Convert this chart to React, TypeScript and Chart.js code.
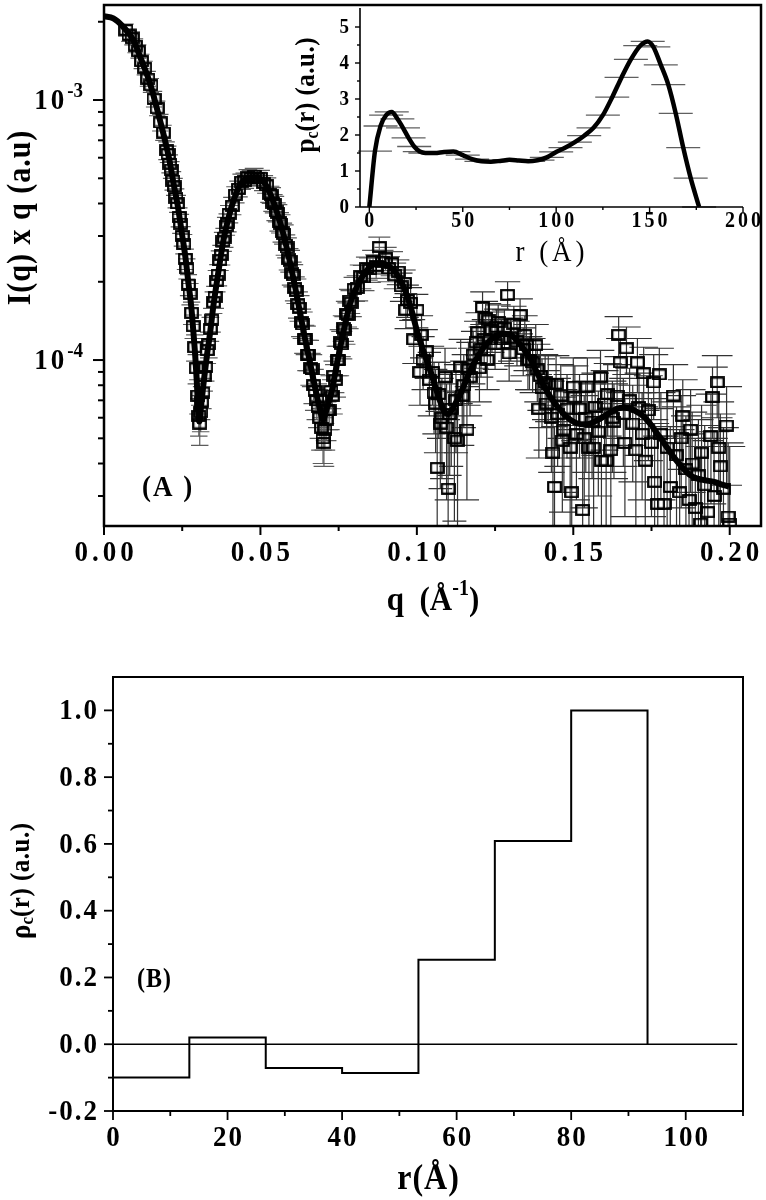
import React, { useEffect, useRef } from "react";
import { Chart, registerables } from "chart.js";
Chart.register(...registerables);

const SERIF = '"Liberation Serif", "Times New Roman", serif';
const bold = (s: number) => `bold ${s}px ${SERIF}`;
const reg = (s: number) => `${s}px ${SERIF}`;

// ================= Panel A : I(q) x q  (values of I in units of 1e-5) =================
const qTicksMajor = [0, 0.05, 0.1, 0.15, 0.2];
const qTickLabels = ["0.00", "0.05", "0.10", "0.15", "0.20"];
const qTicksMinor = [0.025, 0.075, 0.125, 0.175];
const iTicksMajor = [1e-4, 1e-3];
const iTickExponents = ["-4", "-3"];
const iTicksMinor = [3e-5, 4e-5, 5e-5, 6e-5, 7e-5, 8e-5, 9e-5, 2e-4, 3e-4, 4e-4, 5e-4, 6e-4, 7e-4, 8e-4, 9e-4, 2e-3];
const I_UNIT = 1e-5;

const fitQ = [
  0, 0.003, 0.006, 0.0094, 0.012, 0.0147, 0.017, 0.019, 0.021, 0.0222,
  0.0236, 0.0249, 0.026, 0.027, 0.0279, 0.0286, 0.0292, 0.0297, 0.0302, 0.0305,
  0.031, 0.0318, 0.0328, 0.0339, 0.035, 0.036, 0.0372, 0.0382, 0.04, 0.0414,
  0.043, 0.0446, 0.047, 0.049, 0.051, 0.053, 0.0553, 0.0575, 0.0595, 0.0612,
  0.0627, 0.0643, 0.0659, 0.0675, 0.0691, 0.07, 0.0712, 0.0729, 0.0742, 0.0755,
  0.0771, 0.0787, 0.0803, 0.0819, 0.0835, 0.0851, 0.0867, 0.0883, 0.09, 0.0926,
  0.0942, 0.0958, 0.098, 0.1, 0.102, 0.1043, 0.1065, 0.1086, 0.11, 0.112,
  0.1139, 0.116, 0.1182, 0.1205, 0.1225, 0.1247, 0.1267, 0.1285, 0.13, 0.132,
  0.1342, 0.1365, 0.1385, 0.1405, 0.1427, 0.145, 0.147, 0.149, 0.1513, 0.1535,
  0.1555, 0.158, 0.16, 0.162, 0.164, 0.166, 0.1683, 0.17, 0.1726, 0.175,
  0.1769, 0.179, 0.1811, 0.183, 0.1854, 0.1875, 0.1897, 0.192, 0.195, 0.1975,
  0.1998,
];
const fitI = [
  210, 206, 192, 170, 142, 116, 92, 74, 58, 48,
  39, 30.7, 25, 19.7, 16, 12.7, 10.2, 8.1, 6.0, 5.8,
  6.6, 8.1, 10.2, 12.7, 16.3, 19.7, 24.5, 29, 36, 41,
  46, 49, 50.5, 50.5, 48.5, 44, 37, 30, 23.6, 18.8,
  15.1, 12, 9.7, 7.8, 6.4, 5.9, 6.5, 7.7, 9.3, 11.2,
  13.8, 16.6, 18.5, 20.3, 21.7, 22.9, 23.4, 23.5, 23.3, 22.2,
  20.8, 19.1, 16.0, 13.0, 10.9, 9.1, 7.5, 6.4, 6.2, 6.7,
  7.4, 8.5, 9.7, 10.8, 11.6, 12.2, 12.5, 12.6, 12.5, 11.9,
  11.0, 10.0, 8.9, 8.0, 7.2, 6.6, 6.2, 5.9, 5.7, 5.65,
  5.7, 5.9, 6.1, 6.3, 6.5, 6.55, 6.5, 6.35, 6.05, 5.6,
  5.2, 4.8, 4.4, 4.1, 3.8, 3.6, 3.5, 3.45, 3.4, 3.32,
  3.26,
];

const dataQ = [
  0.007, 0.008, 0.009, 0.010, 0.011, 0.012, 0.013, 0.014, 0.015, 0.016,
  0.017, 0.018, 0.019, 0.020, 0.0205, 0.021, 0.0215, 0.022, 0.0225, 0.023,
  0.0235, 0.024, 0.0245, 0.025, 0.0255, 0.026, 0.0265, 0.027, 0.0275, 0.028,
  0.0285, 0.029, 0.0295, 0.030, 0.0303, 0.0306, 0.0309, 0.0312, 0.0316, 0.032,
  0.0325, 0.033, 0.0335, 0.034, 0.0345, 0.035, 0.0355, 0.036, 0.0365, 0.037,
  0.0375, 0.038, 0.0385, 0.039, 0.0395, 0.040, 0.041, 0.042, 0.043, 0.044,
  0.045, 0.046, 0.047, 0.048, 0.049, 0.050, 0.051, 0.052, 0.053, 0.0535,
  0.054, 0.0545, 0.055, 0.0555, 0.056, 0.0565, 0.057, 0.0575, 0.058, 0.0585,
  0.059, 0.0595, 0.060, 0.0605, 0.061, 0.0615, 0.062, 0.0625, 0.063, 0.0635,
  0.064, 0.0645, 0.065, 0.0655, 0.066, 0.0665, 0.067, 0.0675, 0.068, 0.0685,
  0.069, 0.0695, 0.070, 0.0703, 0.0706, 0.071, 0.0715, 0.072, 0.0725, 0.073,
  0.0735, 0.074, 0.0745, 0.075, 0.0755, 0.076, 0.0765, 0.077, 0.0775, 0.078,
  0.0785, 0.079, 0.080, 0.081, 0.082, 0.083, 0.084, 0.085, 0.086, 0.087,
  0.088, 0.089, 0.090, 0.091, 0.092, 0.093, 0.094, 0.095, 0.096, 0.0965,
  0.097, 0.098, 0.099, 0.100, 0.101, 0.1015, 0.102, 0.103, 0.104, 0.105,
  0.1055, 0.106, 0.1065, 0.107, 0.1075, 0.108, 0.109, 0.1095, 0.110, 0.1105,
  0.111, 0.112, 0.1125, 0.113, 0.114, 0.1145, 0.115, 0.116, 0.1165, 0.117,
  0.118, 0.119, 0.1195, 0.120, 0.1205, 0.121, 0.1215, 0.122, 0.1225, 0.123,
  0.1235, 0.124, 0.125, 0.1255, 0.126, 0.127, 0.128, 0.129, 0.1295, 0.130,
  0.131, 0.132, 0.133, 0.134, 0.1345, 0.135, 0.1355, 0.136, 0.137, 0.138,
  0.1385, 0.139, 0.1395, 0.140, 0.141, 0.1415, 0.142, 0.143, 0.1435, 0.144,
  0.1445, 0.145, 0.146, 0.1465, 0.147, 0.148, 0.149, 0.1495, 0.150, 0.1505,
  0.151, 0.152, 0.153, 0.1535, 0.154, 0.1545, 0.155, 0.156, 0.1565, 0.157,
  0.158, 0.1587, 0.159, 0.160, 0.1605, 0.161, 0.162, 0.1625, 0.163, 0.164,
  0.1645, 0.165, 0.166, 0.1665, 0.167, 0.168, 0.169, 0.170, 0.1705, 0.171,
  0.172, 0.1725, 0.173, 0.174, 0.175, 0.1757, 0.176, 0.177, 0.1775, 0.178,
  0.179, 0.180, 0.181, 0.182, 0.183, 0.184, 0.1845, 0.185, 0.186, 0.187,
  0.1875, 0.188, 0.189, 0.190, 0.1907, 0.191, 0.192, 0.193, 0.194, 0.1945,
  0.195, 0.196, 0.1965, 0.197, 0.198, 0.199, 0.1995, 0.200,
];
const dataI = [
  186, 178, 173, 162, 154, 141, 133, 121, 114, 101,
  93, 82, 75, 64, 62, 57, 54, 49, 46.5, 42,
  40, 35.5, 33.5, 30, 28, 24.5, 22.5, 19.5, 18, 15.2,
  13.5, 11.2, 9.3, 7.3, 6.1, 5.7, 6.3, 6.9, 7.5, 8.7,
  9.4, 10.9, 11.5, 13.2, 14.3, 16.7, 17.5, 20.2, 21.3, 24.2,
  25.4, 28.6, 29.6, 32.8, 33.8, 36.5, 39.2, 43.3, 45.6, 48.6,
  49.0, 50.6, 50.2, 51.2, 50.1, 50.3, 48.0, 47.0, 43.5, 43.0,
  40.3, 39.7, 37.3, 36.8, 34.1, 33.5, 31.0, 30.5, 27.8, 27.1,
  24.5, 24.1, 21.6, 21.2, 18.9, 18.5, 16.4, 15.9, 14.0, 13.7,
  12.1, 12.0, 10.5, 10.5, 9.3, 9.2, 8.0, 7.6, 7.0, 6.6,
  6.0, 5.5, 5.0, 4.8, 5.4, 5.9, 6.4, 6.4, 7.6, 7.3,
  8.7, 8.4, 10.0, 10.0, 11.7, 11.5, 13.3, 13.1, 15.1, 14.9,
  16.9, 16.6, 18.8, 19.0, 21.0, 20.8, 22.6, 22.3, 24.0, 23.0,
  27.2, 23.9, 24.6, 22.5, 23.6, 21.2, 21.9, 19.2, 19.8, 15.6,
  17.0, 16.6, 12.0, 15.6, 9.0, 12.5, 10.0, 10.8, 8.4, 9.0,
  7.5, 6.8, 3.85, 7.4, 5.7, 6.0, 8.6, 5.5, 3.2, 6.2,
  6.5, 5.0, 7.0, 4.9, 9.4, 7.3, 8.0, 5.4, 9.2, 8.6,
  10.5, 11.7, 12.8, 9.3, 11.0, 16.0, 12.0, 14.5, 10.0, 14.2,
  12.0, 13.0, 11.5, 13.4, 14.0, 12.0, 13.3, 17.8, 10.6, 12.2,
  13.8, 11.8, 14.9, 11.0, 12.5, 11.4, 10.0, 10.0, 9.8, 11.4,
  9.2, 6.5, 8.7, 7.8, 8.2, 6.8, 8.1, 6.0, 4.4, 3.25,
  8.1, 6.2, 7.3, 4.9, 5.4, 6.5, 4.6, 3.1, 7.9, 7.2,
  5.2, 6.5, 2.65, 5.0, 6.0, 7.9, 4.6, 5.8, 4.6, 6.6,
  5.3, 8.6, 4.1, 6.8, 4.1, 7.4, 4.5, 6.0, 5.8, 7.3,
  12.5, 9.8, 6.2, 4.8, 11.1, 7.0, 5.7, 4.5, 9.8, 6.6,
  5.2, 8.9, 4.1, 6.4, 4.8, 8.2, 3.4, 2.8, 8.8, 5.2,
  2.8, 4.6, 3.25, 7.3, 4.3, 3.1, 5.0, 6.1, 3.8, 2.9,
  5.4, 4.0, 2.7, 3.6, 2.35, 4.4, 3.3, 2.6, 5.1, 7.2,
  3.0, 8.2, 4.6, 3.9, 3.2, 5.6, 2.5, 2.35,
];
const dataErr = [
  10, 10, 10, 10, 9, 9, 8, 8, 7, 7,
  6, 6, 5, 5, 4.5, 4.5, 4, 4, 3.5, 3.5,
  3, 3, 2.8, 2.6, 2.4, 2.2, 2, 1.8, 1.7, 1.5,
  1.4, 1.3, 1.2, 1.1, 1.0, 1.0, 1.0, 1.0, 1.0, 1.1,
  1.1, 1.2, 1.3, 1.4, 1.5, 1.6, 1.7, 1.9, 2, 2.1,
  2.2, 2.4, 2.5, 2.6, 2.7, 2.8, 3, 3.1, 3.2, 3.3,
  3.3, 3.4, 3.4, 3.4, 3.4, 3.3, 3.2, 3.2, 3.1, 3,
  3, 2.9, 2.9, 2.8, 2.8, 2.7, 2.6, 2.6, 2.5, 2.4,
  2.3, 2.3, 2.2, 2.1, 2, 2, 1.9, 1.8, 1.7, 1.6,
  1.5, 1.5, 1.4, 1.4, 1.3, 1.3, 1.2, 1.2, 1.1, 1.1,
  1.0, 1.0, 1.0, 0.9, 0.9, 1.0, 1.0, 1.0, 1.1, 1.1,
  1.2, 1.2, 1.3, 1.3, 1.4, 1.4, 1.5, 1.6, 1.7, 1.7,
  1.8, 1.9, 2, 2.1, 2.2, 2.3, 2.3, 2.4, 2.4, 2.4,
  2.5, 2.5, 2.5, 2.5, 2.5, 2.4, 2.4, 2.4, 2.4, 2.4,
  2.4, 2.4, 2.3, 2.3, 2.3, 2.3, 2.3, 2.3, 2.3, 2.3,
  2.3, 2.4, 2.5, 2.4, 2.5, 2.5, 2.5, 2.6, 2.7, 2.6,
  2.6, 2.6, 2.6, 2.6, 2.6, 2.6, 2.5, 2.5, 2.5, 2.5,
  2.4, 2.4, 2.4, 2.4, 2.4, 2.3, 2.3, 2.3, 2.3, 2.3,
  2.3, 2.3, 2.3, 2.3, 2.3, 2.3, 2.3, 2.2, 2.3, 2.3,
  2.3, 2.3, 2.3, 2.3, 2.3, 2.3, 2.3, 2.3, 2.3, 2.3,
  2.3, 2.3, 2.3, 2.3, 2.3, 2.3, 2.3, 2.3, 2.3, 2.3,
  2.3, 2.3, 2.3, 2.3, 2.3, 2.3, 2.3, 2.3, 2.3, 2.3,
  2.3, 2.3, 2.3, 2.3, 2.3, 2.3, 2.3, 2.3, 2.3, 2.3,
  2.3, 2.3, 2.3, 2.3, 2.3, 2.3, 2.3, 2.3, 2.3, 2.3,
  2.2, 2.3, 2.3, 2.3, 2.3, 2.3, 2.3, 2.3, 2.3, 2.3,
  2.3, 2.3, 2.3, 2.3, 2.3, 2.3, 2.3, 2.3, 2.3, 2.3,
  2.3, 2.3, 2.3, 2.3, 2.3, 2.3, 2.3, 2.3, 2.3, 2.3,
  2.3, 2.3, 2.3, 2.3, 2.3, 2.3, 2.3, 2.3, 2.3, 2.2,
  2.3, 2.2, 2.3, 2.3, 2.3, 2.3, 2.3, 2.3,
];

// ================= Inset : p_c(r) =================
const insetR = [
  0, 3, 6, 9, 12, 15, 18, 21, 24, 27,
  30, 35, 40, 45, 50, 55, 60, 65, 70, 75,
  80, 85, 90, 95, 100, 105, 110, 115, 120, 125,
  130, 135, 140, 145, 149, 152, 156, 160, 164, 168,
  172, 176.5,
];
const insetP = [
  0, 1.55, 2.25, 2.55, 2.64, 2.45, 2.2, 1.92, 1.68, 1.54,
  1.5, 1.5, 1.53, 1.54, 1.44, 1.33, 1.27, 1.26, 1.28, 1.31,
  1.29, 1.27, 1.3, 1.38, 1.53, 1.65, 1.8, 1.98, 2.2, 2.55,
  3.05, 3.6, 4.1, 4.48, 4.6, 4.45, 3.95, 3.4, 2.6, 1.65,
  0.8, 0,
];
const insetRTicks = [0, 50, 100, 150, 200];
const insetRMinor = [25, 75, 125, 175];
const insetPTicks = [0, 1, 2, 3, 4, 5];
const insetPMinor = [0.5, 1.5, 2.5, 3.5, 4.5];

// ================= Panel B : rho_c(r) =================
const binEdges = [0, 13.33, 26.67, 40, 53.33, 66.67, 80, 93.33];
const binValues = [-0.1, 0.02, -0.071, -0.086, 0.253, 0.609, 1.0];
const zeroLineEnd = 109;
const rhoTicks = [-0.2, 0, 0.2, 0.4, 0.6, 0.8, 1.0];
const rhoTickLabels = ["-0.2", "0.0", "0.2", "0.4", "0.6", "0.8", "1.0"];
const rhoMinor = [-0.1, 0.1, 0.3, 0.5, 0.7, 0.9];
const rTicks = [0, 20, 40, 60, 80, 100];
const rTickLabels = ["0", "20", "40", "60", "80", "100"];
const rMinor = [10, 30, 50, 70, 90, 110];

// ================= drawing helpers =================
type Run = { t: string; f: string; dy?: number; ls?: number };

function line(ctx: CanvasRenderingContext2D, x1: number, y1: number, x2: number, y2: number) {
  ctx.beginPath();
  ctx.moveTo(x1, y1);
  ctx.lineTo(x2, y2);
  ctx.stroke();
}

// sy: vertical stretch of glyphs (the original figure's type is tall and narrow)
function drawRuns(ctx: any, runs: Run[], x: number, y: number, align: "left" | "center" | "right", sy = 1.12) {
  ctx.save();
  ctx.textAlign = "left";
  ctx.textBaseline = "middle";
  const widths = runs.map((r) => {
    ctx.font = r.f;
    ctx.letterSpacing = `${r.ls || 0}px`;
    return ctx.measureText(r.t).width;
  });
  const lastLs = runs[runs.length - 1].ls || 0;
  const total = widths.reduce((s, w) => s + w, 0) - lastLs;
  let cx = align === "left" ? x : align === "center" ? x - total / 2 : x - total;
  ctx.translate(0, y);
  ctx.scale(1, sy);
  runs.forEach((r, i) => {
    ctx.font = r.f;
    ctx.letterSpacing = `${r.ls || 0}px`;
    ctx.fillText(r.t, cx, (r.dy || 0) / sy);
    cx += widths[i];
  });
  ctx.restore();
}

function drawRotated(ctx: any, runs: Run[], x: number, y: number, sy = 1.12) {
  ctx.save();
  ctx.translate(x, y);
  ctx.rotate(-Math.PI / 2);
  drawRuns(ctx, runs, 0, 0, "center", sy);
  ctx.restore();
}

function makeSquare() {
  const c = document.createElement("canvas");
  c.width = 15;
  c.height = 12;
  const g = c.getContext("2d")!;
  g.strokeStyle = "#000";
  g.lineWidth = 2.2;
  g.strokeRect(1.2, 1.2, 12.6, 9.6);
  return c;
}

// ================= plugins =================
const panelAPlugin = {
  id: "panelA",
  beforeDatasetsDraw(chart: any) {
    const { ctx, chartArea: a, scales } = chart;
    const xs = scales.x, ys = scales.y;
    ctx.save();
    ctx.beginPath();
    ctx.rect(a.left, a.top, a.right - a.left, a.bottom - a.top);
    ctx.clip();
    ctx.lineWidth = 1.2;
    for (let i = 0; i < dataQ.length; i++) {
      const q = dataQ[i];
      const v = dataI[i] * I_UNIT;
      const e = dataErr[i] * I_UNIT;
      const px = xs.getPixelForValue(q);
      const hi = ys.getPixelForValue(v + e);
      const lowOk = v - e > ys.min;
      const lo = lowOk ? ys.getPixelForValue(v - e) : a.bottom + 5;
      const cap = 7.5 + 40 * q;
      ctx.strokeStyle = q < 0.095 ? "#5c5c5c" : "#333333";
      ctx.beginPath();
      ctx.moveTo(px, hi);
      ctx.lineTo(px, lo);
      ctx.moveTo(px - cap, hi);
      ctx.lineTo(px + cap, hi);
      if (lowOk) {
        ctx.moveTo(px - cap, lo);
        ctx.lineTo(px + cap, lo);
      }
      ctx.stroke();
    }
    ctx.restore();
  },
  afterDraw(chart: any) {
    const { ctx, chartArea: a, scales } = chart;
    const xs = scales.x, ys = scales.y;
    ctx.save();
    ctx.strokeStyle = "#000";
    ctx.fillStyle = "#000";
    ctx.lineWidth = 2.5;
    ctx.strokeRect(a.left, a.top, a.right - a.left, a.bottom - a.top);
    ctx.lineWidth = 2;
    qTicksMajor.forEach((v) => {
      const p = xs.getPixelForValue(v);
      line(ctx, p, a.bottom, p, a.bottom + 9);
    });
    qTicksMinor.forEach((v) => {
      const p = xs.getPixelForValue(v);
      line(ctx, p, a.bottom, p, a.bottom + 5);
    });
    iTicksMajor.forEach((v) => {
      const p = ys.getPixelForValue(v);
      line(ctx, a.left - 11, p, a.left, p);
    });
    iTicksMinor.forEach((v) => {
      const p = ys.getPixelForValue(v);
      line(ctx, a.left - 6, p, a.left, p);
    });
    qTicksMajor.forEach((v, i) => {
      const p = xs.getPixelForValue(v);
      drawRuns(ctx, [{ t: qTickLabels[i], f: bold(27), ls: 4 }], p, a.bottom + 27, "center");
    });
    iTicksMajor.forEach((v, i) => {
      const p = ys.getPixelForValue(v);
      drawRuns(
        ctx,
        [
          { t: "10", f: bold(27), ls: 3 },
          { t: iTickExponents[i], f: bold(19), dy: -10 },
        ],
        a.left - 21,
        p + 1,
        "right"
      );
    });
    drawRotated(ctx, [{ t: "I(q) x q (a.u)", f: bold(30), ls: 1 }], 21, 218);
    drawRuns(
      ctx,
      [
        { t: "q", f: bold(31) },
        { t: "  (", f: bold(31) },
        { t: "Å", f: bold(31) },
        { t: "-1", f: bold(20), dy: -12 },
        { t: ")", f: bold(31) },
      ],
      433,
      601,
      "center"
    );
    drawRuns(ctx, [{ t: "(A )", f: bold(27), ls: 2 }], 142, 488, "left");
    ctx.restore();
  },
};

const insetPlugin = {
  id: "inset",
  beforeDatasetsDraw(chart: any) {
    const { ctx, scales } = chart;
    const xs = scales.x, ys = scales.y;
    ctx.save();
    ctx.strokeStyle = "#606060";
    ctx.lineWidth = 1.3;
    for (let i = 1; i < insetR.length; i++) {
      const px = xs.getPixelForValue(insetR[i]);
      const py = ys.getPixelForValue(insetP[i]);
      line(ctx, px - 17, py, px + 17, py);
    }
    ctx.restore();
  },
  afterDraw(chart: any) {
    const { ctx, chartArea: a, scales } = chart;
    const xs = scales.x, ys = scales.y;
    ctx.save();
    ctx.strokeStyle = "#000";
    ctx.fillStyle = "#000";
    ctx.lineWidth = 1.6;
    line(ctx, a.left, a.top - 1, a.left, a.bottom);
    line(ctx, a.left, a.bottom, a.right, a.bottom);
    ctx.lineWidth = 1.4;
    insetPTicks.forEach((v) => {
      const p = ys.getPixelForValue(v);
      line(ctx, a.left - 5, p, a.left, p);
    });
    insetPMinor.forEach((v) => {
      const p = ys.getPixelForValue(v);
      line(ctx, a.left - 3, p, a.left, p);
    });
    insetRTicks.forEach((v) => {
      const p = xs.getPixelForValue(v);
      line(ctx, p, a.bottom, p, a.bottom + 5);
    });
    insetRMinor.forEach((v) => {
      const p = xs.getPixelForValue(v);
      line(ctx, p, a.bottom, p, a.bottom + 3);
    });
    insetPTicks.forEach((v) => {
      const p = ys.getPixelForValue(v);
      drawRuns(ctx, [{ t: String(v), f: bold(19) }], a.left - 11, p + 1, "right");
    });
    insetRTicks.forEach((v) => {
      const p = xs.getPixelForValue(v);
      drawRuns(ctx, [{ t: String(v), f: bold(20), ls: 3 }], p, a.bottom + 14, "center");
    });
    drawRotated(
      ctx,
      [
        { t: "p", f: bold(25) },
        { t: "c", f: bold(16), dy: 6 },
        { t: "(r) (a.u.)", f: bold(25), ls: 0.5 },
      ],
      a.left - 53,
      95
    );
    drawRuns(ctx, [{ t: "r (Å)", f: reg(27), ls: 4 }], 260, 253, "center");
    ctx.restore();
  },
};

const panelBPlugin = {
  id: "panelB",
  afterDraw(chart: any) {
    const { ctx, chartArea: a, scales } = chart;
    const xs = scales.x, ys = scales.y;
    ctx.save();
    ctx.strokeStyle = "#000";
    ctx.fillStyle = "#000";
    ctx.lineWidth = 2;
    ctx.strokeRect(a.left, a.top, a.right - a.left, a.bottom - a.top);
    ctx.lineWidth = 1.8;
    rhoTicks.forEach((v) => {
      const p = ys.getPixelForValue(v);
      line(ctx, a.left - 9, p, a.left, p);
    });
    rhoMinor.forEach((v) => {
      const p = ys.getPixelForValue(v);
      line(ctx, a.left - 5, p, a.left, p);
    });
    rTicks.forEach((v) => {
      const p = xs.getPixelForValue(v);
      line(ctx, p, a.bottom, p, a.bottom + 9);
    });
    rMinor.forEach((v) => {
      const p = xs.getPixelForValue(v);
      line(ctx, p, a.bottom, p, a.bottom + 5);
    });
    rhoTicks.forEach((v, i) => {
      const p = ys.getPixelForValue(v);
      drawRuns(ctx, [{ t: rhoTickLabels[i], f: bold(27), ls: 2 }], a.left - 16, p + 1, "right");
    });
    rTicks.forEach((v, i) => {
      const p = xs.getPixelForValue(v);
      drawRuns(ctx, [{ t: rTickLabels[i], f: bold(27), ls: 2 }], p, a.bottom + 27, "center");
    });
    drawRotated(
      ctx,
      [
        { t: "ρ", f: bold(27) },
        { t: "c", f: bold(17), dy: 6 },
        { t: "(r) (a.u.)", f: bold(25), ls: 0.5 },
      ],
      22,
      241
    );
    drawRuns(ctx, [{ t: "r(Å)", f: bold(32), ls: 1 }], 428, 540, "center");
    drawRuns(ctx, [{ t: "(B)", f: bold(24), ls: 1 }], 154, 340, "center");
    ctx.restore();
  },
};

const commonOpts = {
  responsive: false,
  maintainAspectRatio: false,
  animation: false as const,
  plugins: { legend: { display: false }, tooltip: { enabled: false } },
  events: [] as any[],
};

export default function App() {
  const aRef = useRef<HTMLCanvasElement>(null);
  const iRef = useRef<HTMLCanvasElement>(null);
  const bRef = useRef<HTMLCanvasElement>(null);

  useEffect(() => {
    const charts: Chart[] = [];
    const square = makeSquare();

    charts.push(
      new Chart(aRef.current!, {
        type: "scatter",
        data: {
          datasets: [
            {
              data: fitQ.map((q, i) => ({ x: q, y: fitI[i] * I_UNIT })),
              showLine: true,
              borderColor: "#000",
              borderWidth: 6,
              pointRadius: 0,
              cubicInterpolationMode: "monotone",
              order: 0,
            } as any,
            {
              data: dataQ.map((q, i) => ({ x: q, y: dataI[i] * I_UNIT })),
              pointStyle: square,
              pointRadius: 5,
              borderColor: "#000",
              backgroundColor: "rgba(0,0,0,0)",
              order: 1,
            } as any,
          ],
        },
        options: {
          ...commonOpts,
          layout: { autoPadding: false, padding: { left: 104, top: 5, right: 5, bottom: 114 } },
          scales: {
            x: { type: "linear", min: 0, max: 0.21, display: false },
            y: { type: "logarithmic", min: 2.3e-5, max: 2.32e-3, display: false },
          },
        } as any,
        plugins: [panelAPlugin],
      })
    );

    charts.push(
      new Chart(iRef.current!, {
        type: "scatter",
        data: {
          datasets: [
            {
              data: insetR.map((r, i) => ({ x: r, y: insetP[i] })),
              showLine: true,
              borderColor: "#000",
              borderWidth: 4.5,
              pointRadius: 0,
              cubicInterpolationMode: "monotone",
            } as any,
          ],
        },
        options: {
          ...commonOpts,
          layout: { autoPadding: false, padding: { left: 70, top: 9, right: 23, bottom: 63 } },
          scales: {
            x: { type: "linear", min: -5, max: 200, display: false },
            y: { type: "linear", min: 0, max: 5.5, display: false },
          },
        } as any,
        plugins: [insetPlugin],
      })
    );

    const stepPts: { x: number; y: number }[] = [];
    binValues.forEach((v, i) => {
      stepPts.push({ x: binEdges[i], y: v });
      stepPts.push({ x: binEdges[i + 1], y: v });
    });
    stepPts.push({ x: binEdges[binEdges.length - 1], y: 0 });

    charts.push(
      new Chart(bRef.current!, {
        type: "scatter",
        data: {
          datasets: [
            {
              data: stepPts,
              showLine: true,
              borderColor: "#000",
              borderWidth: 2,
              pointRadius: 0,
              tension: 0,
            } as any,
            {
              data: [
                { x: 0, y: 0 },
                { x: zeroLineEnd, y: 0 },
              ],
              showLine: true,
              borderColor: "#000",
              borderWidth: 1.3,
              pointRadius: 0,
            } as any,
          ],
        },
        options: {
          ...commonOpts,
          layout: { autoPadding: false, padding: { left: 113, top: 37, right: 23, bottom: 89 } },
          scales: {
            x: { type: "linear", min: 0, max: 110, display: false },
            y: { type: "linear", min: -0.2, max: 1.1, display: false },
          },
        } as any,
        plugins: [panelBPlugin],
      })
    );

    return () => charts.forEach((c) => c.destroy());
  }, []);

  return (
    <div style={{ position: "absolute", left: 0, top: 0, width: 766, height: 1200, background: "#fff" }}>
      <canvas ref={aRef} width={766} height={640} style={{ position: "absolute", left: 0, top: 0 }} />
      <canvas ref={iRef} width={476} height={270} style={{ position: "absolute", left: 290, top: 0 }} />
      <canvas ref={bRef} width={766} height={560} style={{ position: "absolute", left: 0, top: 640 }} />
    </div>
  );
}
